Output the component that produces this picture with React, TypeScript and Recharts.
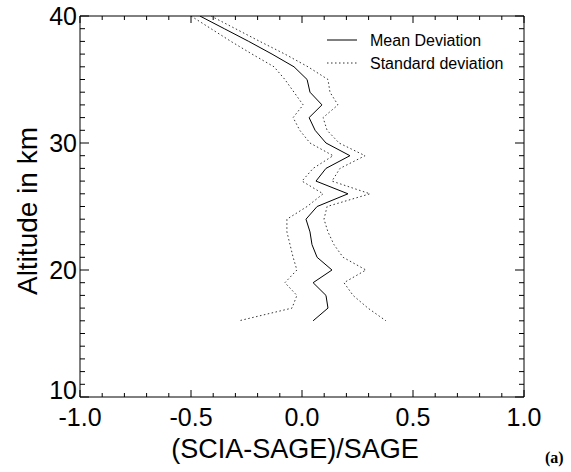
import { ScatterChart, Scatter, XAxis, YAxis } from "recharts";

// altitude levels (km), top to bottom
const altitudes = [40, 39, 38, 37, 36, 35, 34, 33, 32, 31, 30, 29, 28, 27, 26, 25, 24, 23, 22, 21, 20, 19, 18, 17, 16];
// mean relative deviation (SCIA-SAGE)/SAGE
const meanDev = [-0.46, -0.35, -0.24, -0.135, -0.036, 0.023, 0.036, 0.09, 0.032, 0.059, 0.108, 0.216, 0.108, 0.063, 0.207, 0.068, 0.018, 0.036, 0.045, 0.068, 0.135, 0.05, 0.108, 0.117, 0.05];
// standard deviation envelope
const lowerDev = [-0.5, -0.41, -0.32, -0.225, -0.126, -0.077, -0.036, 0.005, -0.04, -0.01, 0.036, 0.14, 0.05, 0.0, 0.095, 0.023, -0.068, -0.068, -0.054, -0.04, -0.023, -0.077, -0.023, -0.045, -0.284];
const upperDev = [-0.41, -0.3, -0.19, -0.077, 0.027, 0.117, 0.126, 0.162, 0.095, 0.113, 0.167, 0.284, 0.171, 0.135, 0.306, 0.113, 0.099, 0.117, 0.144, 0.185, 0.288, 0.189, 0.23, 0.297, 0.378];

const xTicks = [-1, -0.9, -0.8, -0.7, -0.6, -0.5, -0.4, -0.3, -0.2, -0.1, 0, 0.1, 0.2, 0.3, 0.4, 0.5, 0.6, 0.7, 0.8, 0.9, 1];
const xMajor = [-1, -0.5, 0, 0.5, 1];
const yTicks = [10, 11, 12, 13, 14, 15, 16, 17, 18, 19, 20, 21, 22, 23, 24, 25, 26, 27, 28, 29, 30, 31, 32, 33, 34, 35, 36, 37, 38, 39, 40];
const yMajor = [10, 20, 30, 40];

const meanPts = altitudes.map((alt, i) => ({ x: meanDev[i], y: alt }));
const lowerPts = altitudes.map((alt, i) => ({ x: lowerDev[i], y: alt }));
const upperPts = altitudes.map((alt, i) => ({ x: upperDev[i], y: alt }));

const FONT = "'Liberation Sans', Arial, sans-serif";
const LABEL_SIZE = 25;

const isMajorX = (v: number) => xMajor.some((m) => Math.abs(m - v) < 1e-6);
const isMajorY = (v: number) => yMajor.includes(v);

function BottomTick(props: any) {
  const { x, y, payload } = props;
  const major = isMajorX(payload.value);
  return (
    <g>
      <line x1={x} x2={x} y1={y} y2={y - (major ? 7 : 4)} stroke="#000" />
      {major && (
        <text x={x} y={y + 29} textAnchor="middle" fontSize={LABEL_SIZE} fontFamily={FONT} fill="#000">
          {payload.value.toFixed(1)}
        </text>
      )}
    </g>
  );
}

function TopTick(props: any) {
  const { x, y, payload } = props;
  const major = isMajorX(payload.value);
  return <line x1={x} x2={x} y1={y} y2={y + (major ? 7 : 4)} stroke="#000" />;
}

function LeftTick(props: any) {
  const { x, y, payload } = props;
  const major = isMajorY(payload.value);
  // the bottom label sits a little higher so it clears the x labels
  const dy = payload.value === 10 ? 2 : 9;
  return (
    <g>
      <line x1={x} x2={x + (major ? 9 : 5)} y1={y} y2={y} stroke="#000" />
      {major && (
        <text x={x - 3} y={y + dy} textAnchor="end" fontSize={LABEL_SIZE} fontFamily={FONT} fill="#000">
          {payload.value}
        </text>
      )}
    </g>
  );
}

function RightTick(props: any) {
  const { x, y, payload } = props;
  const major = isMajorY(payload.value);
  return <line x1={x} x2={x - (major ? 9 : 5)} y1={y} y2={y} stroke="#000" />;
}

const noDot = () => <g />;

export default function App() {
  return (
    <div style={{ position: "absolute", left: 0, top: 0, width: 571, height: 472, background: "#fff" }}>
      <ScatterChart width={571} height={472} margin={{ top: 15, right: 46, bottom: 0, left: 0 }}>
        <XAxis
          xAxisId="b"
          type="number"
          dataKey="x"
          orientation="bottom"
          domain={[-1, 1]}
          ticks={xTicks}
          interval={0}
          height={75}
          tickSize={0}
          tickMargin={0}
          tickLine={false}
          axisLine={{ stroke: "#000" }}
          tick={<BottomTick />}
          allowDataOverflow
        />
        <XAxis
          xAxisId="t"
          type="number"
          dataKey="x"
          orientation="top"
          domain={[-1, 1]}
          ticks={xTicks}
          interval={0}
          height={1}
          tickSize={0}
          tickMargin={0}
          tickLine={false}
          axisLine={{ stroke: "#000" }}
          tick={<TopTick />}
          allowDataOverflow
        />
        <YAxis
          yAxisId="l"
          type="number"
          dataKey="y"
          orientation="left"
          domain={[10, 40]}
          ticks={yTicks}
          interval={0}
          width={80}
          tickSize={0}
          tickMargin={0}
          tickLine={false}
          axisLine={{ stroke: "#000" }}
          tick={<LeftTick />}
          allowDataOverflow
        />
        <YAxis
          yAxisId="r"
          type="number"
          dataKey="y"
          orientation="right"
          domain={[10, 40]}
          ticks={yTicks}
          interval={0}
          width={1}
          tickSize={0}
          tickMargin={0}
          tickLine={false}
          axisLine={{ stroke: "#000" }}
          tick={<RightTick />}
          allowDataOverflow
        />
        <Scatter
          xAxisId="b"
          yAxisId="l"
          data={lowerPts}
          line={{ stroke: "#333", strokeWidth: 1, strokeDasharray: "1.5 2.5" }}
          lineType="joint"
          shape={noDot}
          isAnimationActive={false}
        />
        <Scatter
          xAxisId="b"
          yAxisId="l"
          data={upperPts}
          line={{ stroke: "#333", strokeWidth: 1, strokeDasharray: "1.5 2.5" }}
          lineType="joint"
          shape={noDot}
          isAnimationActive={false}
        />
        <Scatter
          xAxisId="b"
          yAxisId="l"
          data={meanPts}
          line={{ stroke: "#000", strokeWidth: 1 }}
          lineType="joint"
          shape={noDot}
          isAnimationActive={false}
        />
      </ScatterChart>
      <svg width={571} height={472} style={{ position: "absolute", left: 0, top: 0, pointerEvents: "none" }}>
        <line x1={327} x2={357} y1={40} y2={40} stroke="#000" />
        <text x={370} y={46} fontSize={16} fontFamily={FONT} fill="#000">Mean Deviation</text>
        <line x1={327} x2={357} y1={63} y2={63} stroke="#333" strokeDasharray="1.5 2.5" />
        <text x={370} y={69} fontSize={16} fontFamily={FONT} fill="#000">Standard deviation</text>
        <text x={295} y={458} textAnchor="middle" fontSize={27} fontFamily={FONT} fill="#000">
          (SCIA-SAGE)/SAGE
        </text>
        <text
          x={37}
          y={211}
          transform="rotate(-90 37 211)"
          textAnchor="middle"
          fontSize={28}
          fontFamily={FONT}
          fill="#000"
        >
          Altitude in km
        </text>
        <text x={545} y={463} fontSize={16} fontWeight="bold" fontFamily="'Liberation Serif', 'Times New Roman', serif" fill="#000">
          (a)
        </text>
      </svg>
    </div>
  );
}
